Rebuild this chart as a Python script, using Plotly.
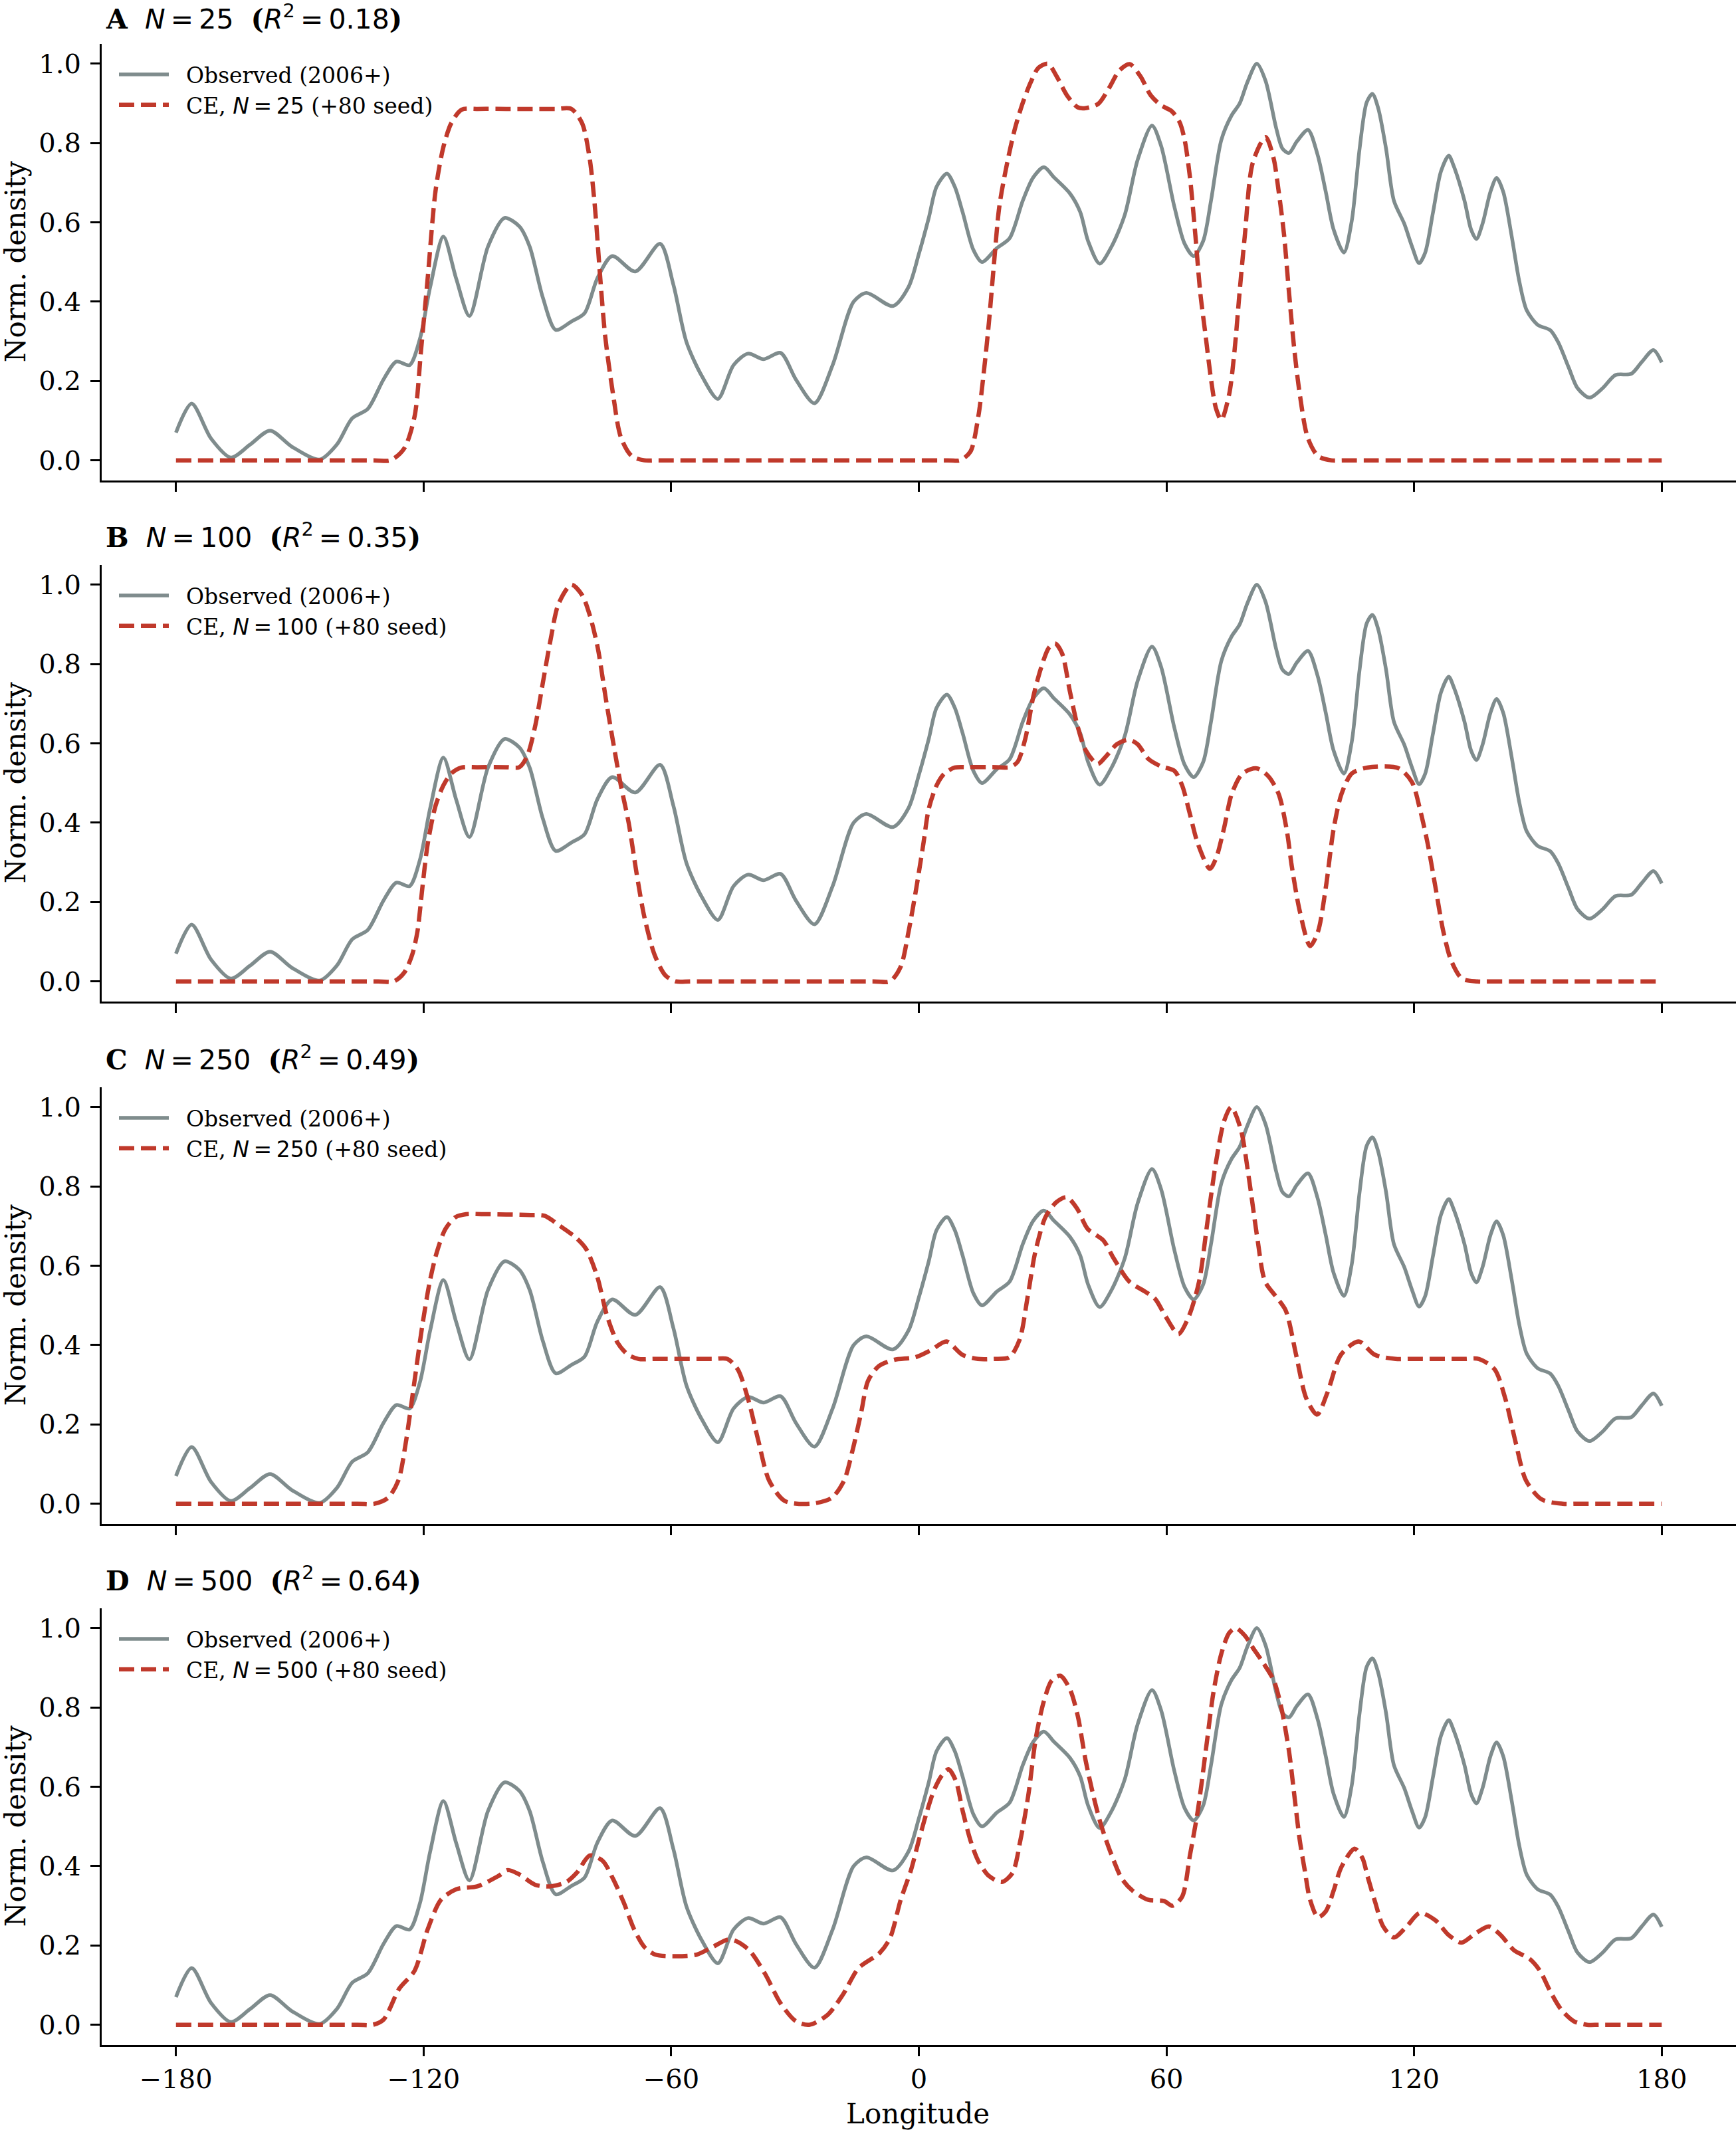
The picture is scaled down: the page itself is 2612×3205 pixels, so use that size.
import plotly.graph_objects as go

# ---------------- data ----------------
obs_lon = [-180, -176.2, -171.5, -166.7, -162, -157.2, -152, -145.2, -141, -137.3, -133.5, -129.7,
           -126.6, -123.4, -120.9, -118.4, -115.2, -112.1, -108.9, -104.4, -100.4, -96.8, -94.3,
           -91.1, -88.0, -84.2, -81.0, -77.9, -74.3, -68.7, -62.7, -59.5, -56.3, -52.5, -48.7,
           -44.9, -41.4, -37.6, -33.5, -29.8, -25.3, -20.9, -15.8, -12.7, -6.3, -2.5, 0, 2.4, 4.3,
           6.8, 8.7, 10.6, 13.2, 15.3, 18.9, 22.0, 25.2, 27.7, 30.3, 32.8, 36.6, 39.1, 41.0, 43.8,
           46.7, 49.9, 53.0, 56.5, 58.7, 61.9, 64.4, 66.6, 68.9, 70.8, 73.3, 75.8, 77.7, 79.6,
           81.9, 84.0, 86.6, 88.1, 89.7, 91.6, 94.3, 96.6, 98.6, 100.5, 103.0, 104.9, 106.8,
           108.5, 109.9, 111.3, 113.2, 115.1, 117.6, 119.5, 121.2, 122.7, 124.6, 126.5, 128.4,
           129.6, 132.2, 133.8, 135.1, 136.6, 138.5, 140.0, 141.6, 143.6, 145.5, 147.3, 149.9,
           153.0, 154.9, 157.5, 159.6, 162.5, 165.7, 168.8, 172.6, 175.1, 178.0, 180]
obs_val = [0.07, 0.143, 0.055, 0.007, 0.04, 0.075, 0.035, 0.002, 0.04, 0.106, 0.13, 0.204,
           0.249, 0.24, 0.306, 0.437, 0.564, 0.458, 0.364, 0.539, 0.611, 0.59, 0.539,
           0.41, 0.329, 0.35, 0.371, 0.459, 0.515, 0.476, 0.546, 0.444, 0.298, 0.211, 0.155,
           0.24, 0.269, 0.255, 0.271, 0.204, 0.144, 0.24, 0.40, 0.422, 0.389, 0.437, 0.52, 0.611, 0.69,
           0.723, 0.69, 0.626, 0.531, 0.50, 0.535, 0.56, 0.655, 0.713, 0.739, 0.713, 0.673, 0.626, 0.553, 0.496,
           0.539, 0.619, 0.757, 0.844, 0.793, 0.64, 0.546, 0.515, 0.553, 0.655, 0.808, 0.87, 0.899, 0.953,
           1.0, 0.957, 0.837, 0.786, 0.775, 0.804, 0.833, 0.771, 0.677, 0.582, 0.524, 0.604, 0.786,
           0.902, 0.924, 0.888, 0.786, 0.655, 0.597, 0.539, 0.497, 0.524, 0.626, 0.728, 0.768,
           0.742, 0.655, 0.582, 0.558, 0.597, 0.677, 0.712, 0.677, 0.568, 0.451, 0.378, 0.342,
           0.328, 0.298, 0.233, 0.182, 0.158, 0.182, 0.215, 0.218, 0.247, 0.278, 0.247]

ce25_lon = [-180, -132, -128, -124.7, -122.2, -120.6, -119.0, -117.1, -115.2, -113.3, -110.8, -107,
            -100, -88, -84.2, -81.6, -79.8, -78.5, -77.2, -76.0, -74.1, -72.2, -69.6, -66.5, -63,
            7, 10, 12.5, 14.4, 15.7, 17.0, 18.2, 19.5, 21.4, 23.3, 25.2, 27.1, 29.0, 31.3, 33.4, 35.9,
            38.5, 40.4, 43.5, 46.1, 48.6, 51.1, 53.7, 56.2, 58.7, 61.3, 63.2, 64.4, 65.7, 67.0, 68.2,
            69.5, 70.8, 72.0, 73.3, 75.2, 76.5, 77.7, 79.0, 80.9, 84.0, 85.9, 87.2, 88.5, 89.7, 91.0,
            92.3, 94.2, 96.7, 99.9, 103, 180]
ce25_val = [0, 0, 0, 0.03, 0.11, 0.28, 0.46, 0.68, 0.79, 0.85, 0.884, 0.886,
            0.886, 0.886, 0.886, 0.85, 0.764, 0.64, 0.46, 0.313, 0.167, 0.058, 0.011, 0, 0,
            0, 0, 0.022, 0.11, 0.218, 0.35, 0.495, 0.64, 0.75, 0.837, 0.902, 0.953, 0.99, 1.0, 0.968, 0.92,
            0.89, 0.888, 0.899, 0.939, 0.983, 0.999, 0.968, 0.92, 0.895, 0.88, 0.852, 0.808, 0.713, 0.568, 0.422,
            0.313, 0.204, 0.131, 0.102, 0.167, 0.277, 0.422, 0.568, 0.75, 0.815, 0.764, 0.677, 0.568, 0.422, 0.277,
            0.167, 0.058, 0.011, 0, 0, 0]

ce100_lon = [-180, -131, -127.2, -124.7, -122.8, -121.5, -120.3, -119.0, -117.1, -115.2, -113.3,
             -110.8, -107, -100, -96.8, -94.9, -93.0, -91.1, -89.2, -87.3, -84.2, -81.6, -79.7,
             -77.8, -75.9, -74.1, -72.2, -70.3, -68.4, -66.5, -64.0, -61.4, -58.9, -55, -11, -7.0,
             -4.4, -2.5, -0.6, 1.1, 2.4, 4.3, 6.2, 8.7, 12, 19, 22.0, 23.9, 25.8, 27.7, 29.6, 31.5,
             33.0, 34.7, 36.6, 38.5, 40.4, 43.3, 45.4, 48.0, 50.9, 53.0, 55.6, 58.7, 61.9, 63.8,
             65.7, 67.6, 70.5, 72.0, 73.9, 75.8, 78.4, 81.9, 84.7, 87.2, 89.1, 90.4, 92.3, 94.8,
             96.7, 98.6, 100.5, 102.4, 104.9, 108.7, 116.3, 119.5, 121.4, 123.3, 125.2, 127.1,
             129.0, 131.6, 135.3, 139, 180]
ce100_val = [0, 0, 0, 0.022, 0.066, 0.125, 0.236, 0.347, 0.443, 0.494, 0.524,
             0.539, 0.54, 0.54, 0.54, 0.568, 0.642, 0.753, 0.863, 0.952, 1.0, 0.974, 0.922,
             0.841, 0.716, 0.605, 0.494, 0.399, 0.273, 0.162, 0.066, 0.015, 0, 0, 0, 0,
             0.037, 0.125, 0.236, 0.347, 0.435, 0.494, 0.524, 0.539, 0.54, 0.54, 0.54, 0.553, 0.612, 0.716, 0.79, 0.841,
             0.852, 0.827, 0.731, 0.642, 0.583, 0.548, 0.568, 0.598, 0.609, 0.598, 0.561, 0.542, 0.531, 0.494,
             0.421, 0.347, 0.284, 0.31, 0.384, 0.472, 0.524, 0.537, 0.517, 0.472, 0.384, 0.288, 0.177, 0.089,
             0.125, 0.236, 0.384, 0.472, 0.524, 0.539, 0.537, 0.502, 0.435, 0.347, 0.236, 0.125,
             0.052, 0.007, 0, 0, 0]

ce250_lon = [-180, -136, -131.9, -128.6, -126.1, -124.3, -122.3, -120.3, -118.5, -116.8, -114.7,
             -112.2, -109.7, -106, -94, -90.7, -86.9, -83.1, -80.6, -78.0, -75.5, -73.0, -70.5,
             -67.9, -64, -50, -46.4, -43.9, -41.4, -38.8, -36.3, -32.5, -26.2, -21.1, -18.1, -16.1,
             -14.0, -12.3, -9.7, -5.9, -0.9, 2.9, 6.7, 10.5, 14.3, 18.1, 21.9, 24.4, 26.4, 28.2,
             30.7, 33.3, 35.8, 38.3, 40.9, 44.7, 47.2, 51.0, 54.8, 57.3, 59.8, 62.9, 65.4, 67.9,
             69.9, 71.9, 74.0, 75.7, 78.0, 80.0, 82.0, 83.9, 86.4, 88.9, 91.4, 93.9, 96.5, 99.0,
             102.3, 106.6, 110.4, 115.5, 119, 132, 135.7, 139.5, 142.1, 144.6, 147.1, 150.9, 156.0,
             160, 180]
ce250_val = [0, 0, 0, 0.015, 0.059, 0.155, 0.302, 0.45, 0.56, 0.634, 0.693,
             0.723, 0.73, 0.73, 0.728, 0.726, 0.7, 0.671, 0.642, 0.575, 0.472, 0.406, 0.376,
             0.365, 0.365, 0.365, 0.365, 0.339, 0.265, 0.155, 0.059, 0.007, 0, 0.015, 0.059, 0.133,
             0.229, 0.31, 0.347, 0.363, 0.369, 0.387, 0.409, 0.376, 0.365, 0.365, 0.369, 0.413, 0.524, 0.634,
             0.723, 0.76, 0.773, 0.745, 0.693, 0.664, 0.619, 0.56, 0.535, 0.516, 0.472, 0.428, 0.472, 0.56,
             0.708, 0.855, 0.966, 1.0, 0.944, 0.819, 0.671, 0.56, 0.524, 0.487, 0.376, 0.265, 0.225, 0.28,
             0.376, 0.409, 0.376, 0.365, 0.365, 0.365, 0.365, 0.339, 0.265, 0.155, 0.059, 0.011, 0,
             0, 0]

ce500_lon = [-180, -136, -132.3, -129.7, -125.9, -122.2, -119.0, -115.8, -112.0, -107.0, -101.9, -99.6,
             -96.8, -93.0, -89.2, -85.4, -82.9, -79.7, -76.6, -74.1, -71.5, -69.0, -66.5, -63.9,
             -58.9, -53.8, -50.0, -46.2, -44.3, -41.1, -37.3, -33.5, -29.8, -26.6, -22.2, -18.4,
             -14.6, -9.5, -7.0, -4.4, -1.9, 0, 1.8, 3.7, 5.6, 7.2, 9.0, 10.6, 12.5, 14.4, 17.0, 20.1,
             22.7, 24.6, 26.5, 28.4, 30.3, 32.2, 34.3, 36.6, 38.5, 40.4, 42.3, 44.2, 46.7, 49.2, 51.8,
             55.6, 59.4, 61.5, 63.8, 65.7, 67.6, 69.5, 71.4, 73.3, 75.2, 76.8, 79.0, 80.9, 83.4, 86.0,
             87.8, 89.7, 91.0, 92.3, 93.5, 94.8, 96.7, 98.6, 100.5, 102.4, 105.6, 107.5, 108.7, 110.6,
             112.5, 115.1, 118.2, 121.4, 125.2, 128.4, 131.5, 134.7, 138.1, 141.0, 144.2, 148.0,
             150.5, 153.0, 155.6, 158.7, 161.9, 165, 180]
ce500_val = [0, 0, 0, 0.013, 0.091, 0.136, 0.241, 0.315, 0.342, 0.349, 0.375, 0.39,
             0.379, 0.353, 0.349, 0.36, 0.383, 0.427, 0.413, 0.368, 0.308, 0.241, 0.196, 0.177,
             0.173, 0.177, 0.196, 0.215, 0.211, 0.188, 0.129, 0.054, 0.009, 0.0, 0.024, 0.076,
             0.143, 0.181, 0.218, 0.315, 0.39, 0.465, 0.532, 0.592, 0.629, 0.644, 0.614, 0.54, 0.465, 0.413, 0.375, 0.36,
             0.383, 0.465, 0.577, 0.726, 0.816, 0.868, 0.88, 0.846, 0.779, 0.667, 0.577, 0.502, 0.428, 0.368, 0.338,
             0.315, 0.312, 0.30, 0.323, 0.428, 0.54, 0.689, 0.839, 0.936, 0.988, 1.0, 0.981, 0.951, 0.913, 0.868,
             0.801, 0.689, 0.577, 0.465, 0.39, 0.315, 0.271, 0.286, 0.338, 0.398, 0.444, 0.42, 0.375, 0.308,
             0.248, 0.22, 0.248, 0.282, 0.263, 0.226, 0.207, 0.229, 0.248, 0.226, 0.188, 0.166,
             0.136, 0.084, 0.039, 0.009, 0.0, 0, 0]

panel_letters = ["A", "B", "C", "D"]
panel_N = [25, 100, 250, 500]
panel_R2 = ["0.18", "0.35", "0.49", "0.64"]
ce_lons = [ce25_lon, ce100_lon, ce250_lon, ce500_lon]
ce_vals = [ce25_val, ce100_val, ce250_val, ce500_val]
x_ticks = [-180, -120, -60, 0, 60, 120, 180]
y_ticks = [0.0, 0.2, 0.4, 0.6, 0.8, 1.0]

# ---------------- styling / layout ----------------
W, H = 2612, 3205
GRAY = "#7f8c8d"
RED = "#c0392b"
SERIF = "DejaVu Serif"
LEFT = 153
panel_tops = [66, 850, 1636, 2420]
title_offsets = [40, 44, 44, 44]
PH = 656.5

def py(px):
    return 1 - px / H

def px_x(px):
    return px / W

fig = go.Figure()
annotations = []
layout = dict(
    width=W, height=H,
    margin=dict(l=0, r=0, t=0, b=0),
    paper_bgcolor="white", plot_bgcolor="white",
    font=dict(family=SERIF, size=40, color="black"),
    showlegend=True,
)

NB = "\u00a0\u00a0"
for i in range(4):
    sfx = "" if i == 0 else str(i + 1)
    xa, ya = "x" + sfx, "y" + sfx
    leg = "legend" if i == 0 else "legend" + str(i + 1)
    fig.add_trace(go.Scatter(
        x=obs_lon, y=obs_val, xaxis=xa, yaxis=ya, mode="lines",
        line=dict(color=GRAY, width=5.5, shape="spline", smoothing=0.8),
        name=NB + "Observed (2006+)", legend=leg))
    fig.add_trace(go.Scatter(
        x=ce_lons[i], y=ce_vals[i], xaxis=xa, yaxis=ya, mode="lines",
        line=dict(color=RED, width=6.5, dash="23px,10px", shape="spline", smoothing=0.8),
        name=NB + "CE, <span style='font-family:DejaVu Sans'><i>N</i>\u2009=\u2009%d</span> (+80 seed)" % panel_N[i],
        legend=leg))

    top = panel_tops[i]
    bot = top + PH
    layout["xaxis" + sfx] = dict(
        domain=[px_x(LEFT), 1], anchor=ya, range=[-198, 198],
        tickvals=x_ticks, ticktext=[("\u2212%d" % -v) if v < 0 else str(v) for v in x_ticks],
        showticklabels=(i == 3), ticks="outside", ticklen=14, tickwidth=3.3, tickcolor="black",
        showline=True, linewidth=3.3, linecolor="black", showgrid=False, zeroline=False,
        tickfont=dict(family=SERIF, size=40), ticklabelstandoff=0)
    layout["yaxis" + sfx] = dict(
        domain=[py(bot), py(top)], anchor=xa, range=[-0.05, 1.05],
        tickvals=y_ticks, ticktext=["%.1f" % v for v in y_ticks],
        ticks="outside", ticklen=14, tickwidth=3.3, tickcolor="black",
        showline=True, linewidth=3.3, linecolor="black", showgrid=False, zeroline=False,
        tickfont=dict(family=SERIF, size=40), ticklabelstandoff=6)
    layout[leg] = dict(
        x=px_x(174), y=py(top + 18), xanchor="left", yanchor="top",
        bgcolor="rgba(0,0,0,0)", borderwidth=0,
        font=dict(family=SERIF, size=33, color="black"),
        itemwidth=75, tracegroupgap=0)

    # panel title
    title = ("<b>%s</b>\u00a0\u00a0<span style='font-family:DejaVu Sans'><i>N</i>\u2009=\u2009%d</span>"
             "\u00a0\u00a0<b>(</b><span style='font-family:DejaVu Sans'><i>R</i><sup>2</sup>\u2009=\u2009%s</span><b>)</b>"
             % (panel_letters[i], panel_N[i], panel_R2[i]))
    annotations.append(dict(
        text=title, xref="paper", yref="paper", x=px_x(157), y=py(top - title_offsets[i]),
        xanchor="left", yanchor="middle", showarrow=False,
        font=dict(family=SERIF, size=41, color="black")))
    # y-axis title
    annotations.append(dict(
        text="Norm. density", xref="paper", yref="paper", x=px_x(23), y=py(top + PH / 2),
        xanchor="center", yanchor="middle", textangle=-90, showarrow=False,
        font=dict(family=SERIF, size=42, color="black")))

annotations.append(dict(
    text="Longitude", xref="paper", yref="paper", x=px_x(1381), y=py(3180),
    xanchor="center", yanchor="middle", showarrow=False,
    font=dict(family=SERIF, size=42, color="black")))

layout["annotations"] = annotations
fig.update_layout(**layout)
fig.write_html("out.html")
